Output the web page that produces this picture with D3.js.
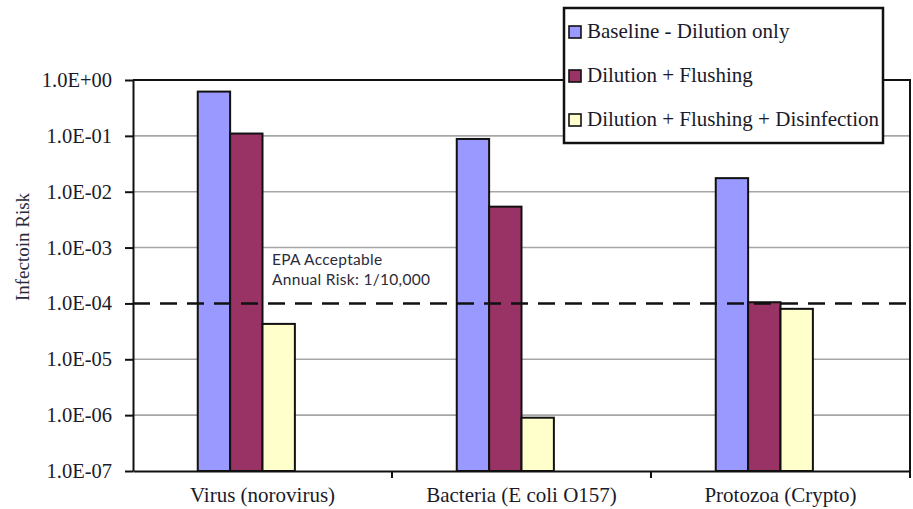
<!DOCTYPE html>
<html>
<head>
<meta charset="utf-8">
<script src="https://cdn.jsdelivr.net/npm/d3@7/dist/d3.min.js"></script>
<style>
  html, body { margin: 0; padding: 0; background: #fff; }
  svg { display: block; }
</style>
</head>
<body>
<svg id="chart" width="913" height="509"></svg>
<script>
// Pathogen groups along the x axis
const categories = ["Virus (norovirus)", "Bacteria (E coli O157)", "Protozoa (Crypto)"];

// Series names and annual infection risk per pathogen group
const seriesNames = [
  "Baseline - Dilution only",
  "Dilution + Flushing",
  "Dilution + Flushing + Disinfection"
];
const baselineRisk     = [0.62, 0.088, 0.0175];
const flushingRisk     = [0.11, 0.0054, 0.000105];
const disinfectionRisk = [0.000043, 0.0000009, 0.00008];

// Log-axis ticks and their labels
const tickValues = [1e0, 1e-1, 1e-2, 1e-3, 1e-4, 1e-5, 1e-6, 1e-7];
const tickLabels = ["1.0E+00", "1.0E-01", "1.0E-02", "1.0E-03", "1.0E-04", "1.0E-05", "1.0E-06", "1.0E-07"];

// EPA acceptable annual risk threshold
const epaThreshold = 1e-4;
const epaNote = ["EPA Acceptable", "Annual Risk: 1/10,000"];

const yTitle = "Infectoin Risk";
const seriesColors = ["#9999ff", "#993366", "#ffffcc"];

const seriesValues = [baselineRisk, flushingRisk, disinfectionRisk];

const svg = d3.select("#chart");
const plot = { left: 133, right: 910, top: 80, bottom: 471 };
const serif = "'Liberation Serif', 'Times New Roman', serif";

const y = d3.scaleLog().domain([1e-7, 1]).range([plot.bottom, plot.top]);
const x0 = d3.scaleBand().domain(categories).range([plot.left, plot.right]).padding(0);
// four slots per category (the last one stays empty), wide outer gaps
const x1 = d3.scaleBand().domain([0, 1, 2, 3]).range([0, x0.bandwidth()]).paddingInner(0).paddingOuter(2);

// gridlines
svg.append("g")
  .selectAll("line")
  .data(tickValues.filter(v => v < 1 && v > 1e-7 && v !== epaThreshold))
  .join("line")
  .attr("x1", plot.left).attr("x2", plot.right)
  .attr("y1", d => y(d)).attr("y2", d => y(d))
  .attr("stroke", "#a6a6a6").attr("stroke-width", 1.6);

// bars
const groups = svg.append("g")
  .selectAll("g")
  .data(categories)
  .join("g")
  .attr("transform", d => `translate(${x0(d)},0)`);

groups.selectAll("rect")
  .data((c, ci) => seriesValues.map((vals, si) => ({ si, v: vals[ci] })))
  .join("rect")
  .attr("x", d => x1(d.si))
  .attr("width", x1.bandwidth())
  .attr("y", d => y(d.v))
  .attr("height", d => plot.bottom - y(d.v))
  .attr("fill", d => seriesColors[d.si])
  .attr("stroke", "#111")
  .attr("stroke-width", 2);

// EPA threshold line
svg.append("line")
  .attr("x1", plot.left).attr("x2", plot.right)
  .attr("y1", y(epaThreshold)).attr("y2", y(epaThreshold))
  .attr("stroke", "#111").attr("stroke-width", 2.4)
  .attr("stroke-dasharray", "17,10");

// annotation above the threshold line, two separate lines
svg.append("g")
  .selectAll("text")
  .data(epaNote)
  .join("text")
  .attr("x", 272)
  .attr("y", (d, i) => y(epaThreshold) - 38 + i * 20)
  .attr("font-family", "Lato, 'Open Sans', sans-serif")
  .attr("font-size", 15.5)
  .attr("letter-spacing", 0.3)
  .attr("fill", "#2b2b3a")
  .text(d => d);

// plot frame (top and right)
svg.append("path")
  .attr("d", `M${plot.left},${plot.top}H${plot.right}V${plot.bottom}`)
  .attr("fill", "none").attr("stroke", "#111").attr("stroke-width", 2);

// y axis
const yAxis = svg.append("g")
  .attr("transform", `translate(${plot.left},0)`)
  .call(d3.axisLeft(y)
    .tickValues(tickValues)
    .tickFormat((d, i) => tickLabels[i])
    .tickSize(8).tickSizeOuter(0).tickPadding(13));
yAxis.select(".domain").attr("stroke", "#111").attr("stroke-width", 2);
yAxis.selectAll(".tick line").attr("stroke", "#111").attr("stroke-width", 2);
yAxis.selectAll(".tick text")
  .attr("font-family", serif).attr("font-size", 20.5).attr("fill", "#1a1a2a");

// x axis
const xAxis = svg.append("g")
  .attr("transform", `translate(0,${plot.bottom})`)
  .call(d3.axisBottom(x0).tickSize(0).tickSizeOuter(0).tickPadding(16));
xAxis.select(".domain").attr("stroke", "#111").attr("stroke-width", 2);
xAxis.selectAll(".tick text")
  .attr("font-family", serif).attr("font-size", 21).attr("fill", "#1a1a2a");

// tick marks between categories
svg.append("g")
  .selectAll("line")
  .data(categories.slice(1).map(c => x0(c)).concat([plot.right]))
  .join("line")
  .attr("x1", d => d).attr("x2", d => d)
  .attr("y1", plot.bottom).attr("y2", plot.bottom + 7)
  .attr("stroke", "#111").attr("stroke-width", 2);

// y axis title
svg.append("text")
  .attr("transform", "translate(29,247) rotate(-90)")
  .attr("text-anchor", "middle")
  .attr("font-family", serif).attr("font-size", 19)
  .attr("fill", "#2a2a3a")
  .text(yTitle);

// legend
const legend = svg.append("g");
legend.append("rect")
  .attr("x", 564).attr("y", 8).attr("width", 319).attr("height", 135)
  .attr("fill", "#fff").attr("stroke", "#111").attr("stroke-width", 2.5);
const items = legend.selectAll("g.item")
  .data(seriesNames)
  .join("g").attr("class", "item")
  .attr("transform", (d, i) => `translate(569,${38 + i * 44})`);
items.append("rect")
  .attr("x", 0).attr("y", -12).attr("width", 12).attr("height", 12)
  .attr("fill", (d, i) => seriesColors[i])
  .attr("stroke", "#111").attr("stroke-width", 1.6);
items.append("text")
  .attr("x", 18).attr("y", 0)
  .attr("font-family", serif).attr("font-size", 21)
  .attr("fill", "#1a1a2a")
  .text(d => d);
</script>
</body>
</html>
